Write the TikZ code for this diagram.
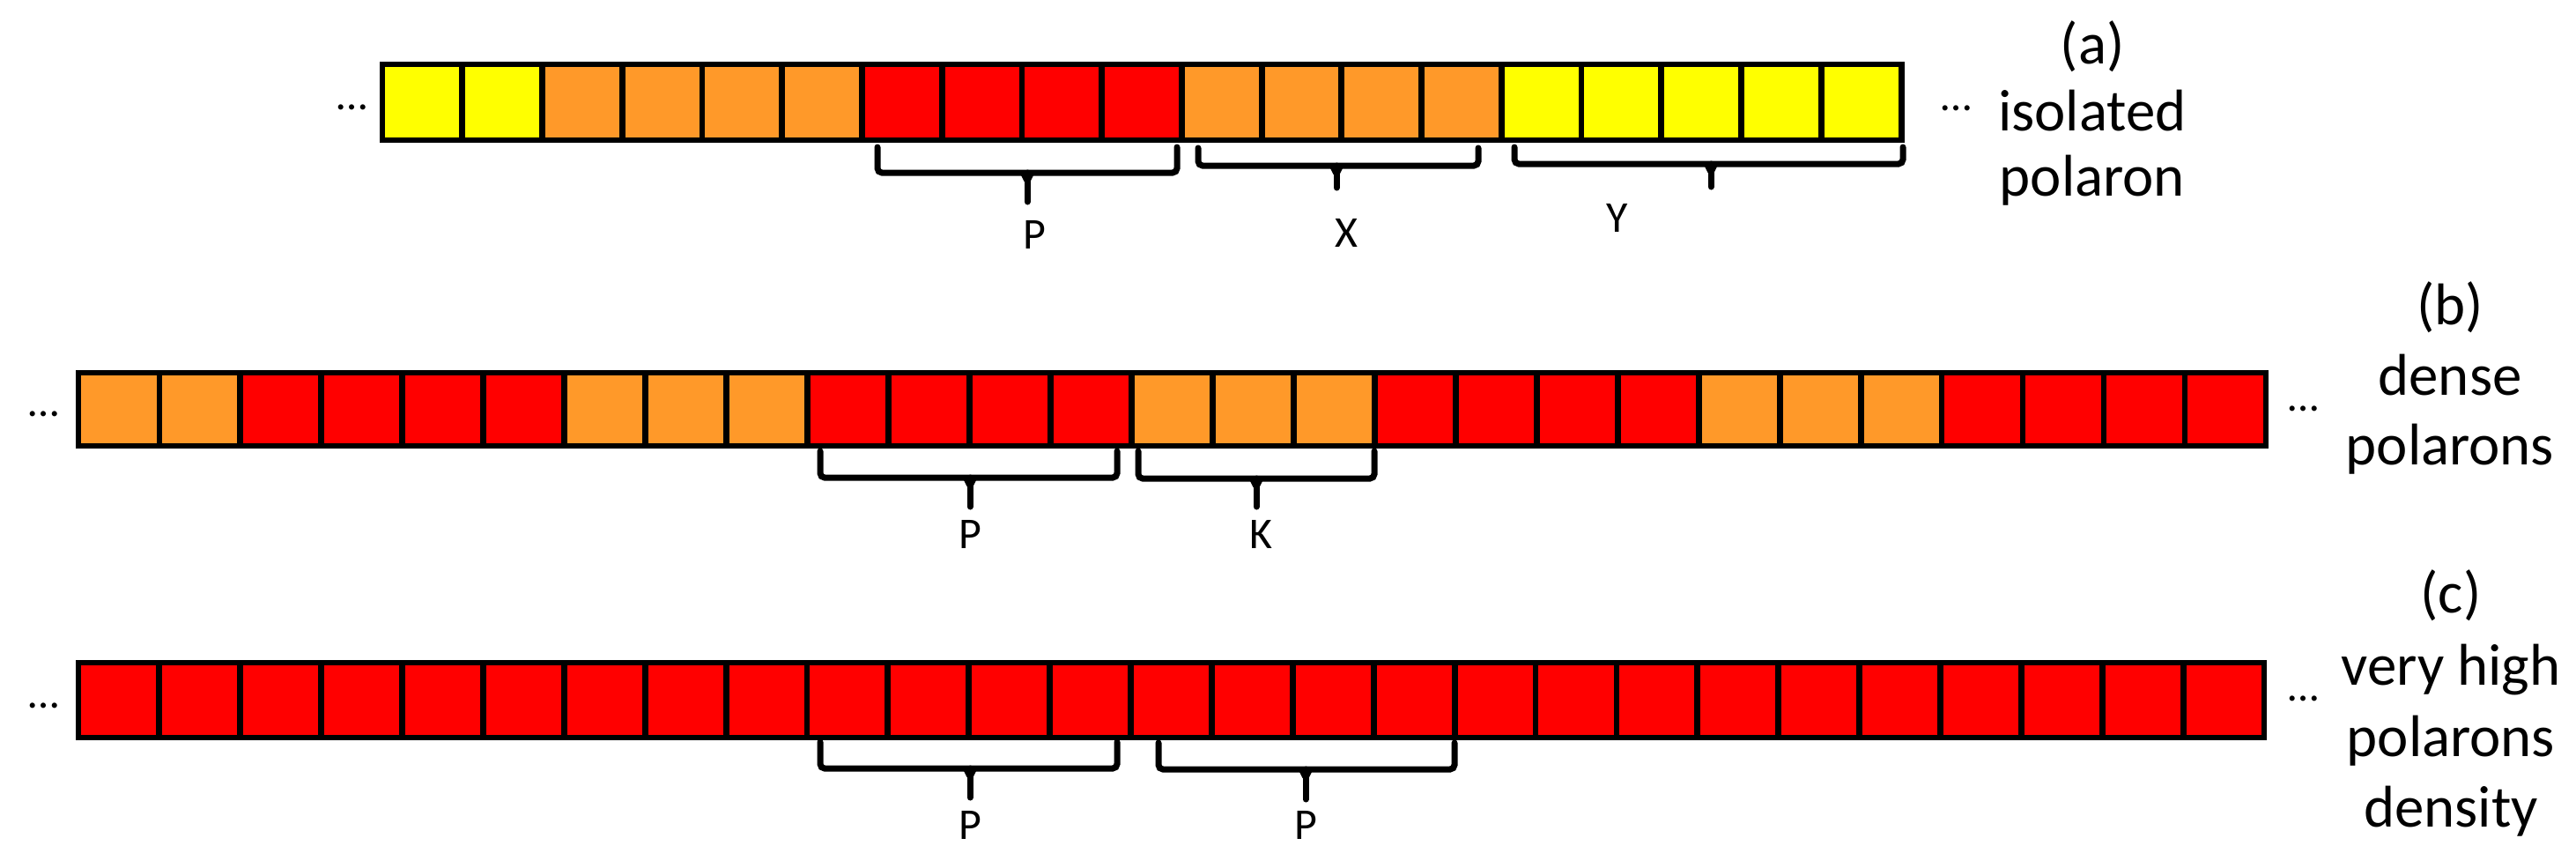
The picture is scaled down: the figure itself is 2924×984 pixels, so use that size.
\documentclass[tikz,border=0pt]{standalone}
\usepackage{fontspec}
\setmainfont{Carlito}
\definecolor{cY}{RGB}{255,255,0}
\definecolor{cO}{RGB}{255,153,41}
\definecolor{cR}{RGB}{255,0,0}
\newcommand\polbrace[6]{%
  \draw[bracestyle] (#1,#4) -- (#1,#5) -- (#2,#5) -- (#2,#4);
  \draw[bracestyle] (#3,#5) -- (#3,#6);
  \fill (#3-10,#5-3) -- (#3+10,#5-3) -- (#3+3.5,#5+10) -- (#3-3.5,#5+10) -- cycle;
}
\begin{document}
\begin{tikzpicture}[x=0.01cm,y=-0.01cm,
  cellbase/.style={draw=black, line width=0.068cm, inner sep=0pt, outer sep=0pt},
  cella/.style={cellbase, minimum width=0.9074cm, minimum height=0.86cm},
  cellb/.style={cellbase, minimum width=0.9196cm, minimum height=0.83cm},
  cellc/.style={cellbase, minimum width=0.9189cm, minimum height=0.85cm},
  bracestyle/.style={line width=0.07cm, rounded corners=0.05cm, line cap=round},
  lbl/.style={font=\fontsize{19}{23}\selectfont, inner sep=0pt, anchor=base},
  smalllbl/.style={font=\fontsize{14.2}{17}\selectfont, inner sep=0pt, anchor=base}]
\useasboundingbox (0,0) rectangle (2924,984);

% row (a)
\foreach \c [count=\i] in {Y,Y,O,O,O,O,R,R,R,R,O,O,O,O,Y,Y,Y,Y,Y}
  \node[cella, fill=c\c] (a\i) at ({434+(\i-0.5)*90.74},116) {};
% row (b)
\foreach \c [count=\i] in {O,O,R,R,R,R,O,O,O,R,R,R,R,O,O,O,R,R,R,R,O,O,O,R,R,R,R}
  \node[cellb, fill=c\c] (b\i) at ({89+(\i-0.5)*91.96},464.5) {};
% row (c)
\foreach \i in {1,...,27}
  \node[cellc, fill=cR] (c\i) at ({89+(\i-0.5)*91.89},794.5) {};

% dots
\node[smalllbl] (dal) at (400,124) {…};
\node[smalllbl] (dar) at (2221,125) {…};
\node[smalllbl] (dbl) at (50,472) {…};
\node[smalllbl] (dbr) at (2615,466) {…};
\node[smalllbl] (dcl) at (50,803) {…};
\node[smalllbl] (dcr) at (2615,795) {…};

% braces row (a)
\polbrace{996}{1336}{1166}{167}{196}{229}
\polbrace{1360}{1678}{1517}{168}{188}{213}
\polbrace{1719}{2160}{1942}{167}{186}{212}
\node[smalllbl] (pa) at (1174,282) {P};
\node[smalllbl] (xa) at (1528,280) {X};
\node[smalllbl] (ya) at (1836,263) {Y};

% braces row (b)
\polbrace{931}{1268}{1101}{512}{542}{575}
\polbrace{1292}{1560}{1426}{512}{543}{575}
\node[smalllbl] (pb) at (1101,622) {P};
\node[smalllbl] (kb) at (1431,622) {K};

% braces row (c)
\polbrace{931}{1268}{1101}{842}{872}{905}
\polbrace{1315}{1651}{1482}{843}{873}{907}
\node[smalllbl] (pc1) at (1101,952) {P};
\node[smalllbl] (pc2) at (1482,952) {P};

% side labels
\node[lbl] (la1) at (2375,72) {(a)};
\node[lbl] (la2) at (2375,148) {isolated};
\node[lbl] (la3) at (2375,222) {polaron};

\node[lbl] (lb1) at (2781,368) {(b)};
\node[lbl] (lb2) at (2781,448) {dense};
\node[lbl] (lb3) at (2781,527) {polarons};

\node[lbl] (lc1) at (2782,695) {(c)};
\node[lbl] (lc2) at (2782,777) {very high};
\node[lbl] (lc3) at (2782,858) {polarons};
\node[lbl] (lc4) at (2782,938) {density};
\end{tikzpicture}
\end{document}
